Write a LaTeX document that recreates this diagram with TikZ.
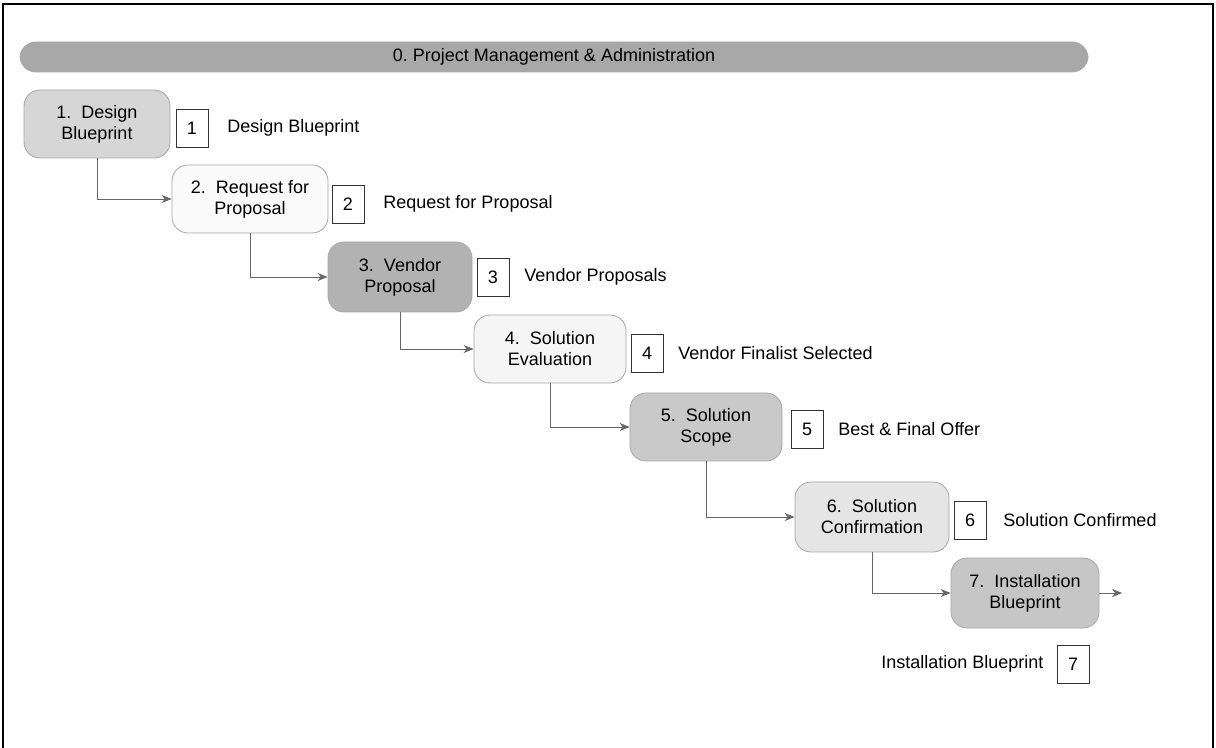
\documentclass[tikz,border=0pt]{standalone}
\usepackage{fontspec}
\setmainfont{Liberation Sans}
\usetikzlibrary{arrows.meta}

\tikzset{
    phase/.style={draw=gray!70, rounded corners=8, align=center, inner sep=2pt,
        font=\fontsize{9}{10.5}\selectfont},
    tag/.style={draw=black!80, minimum width=16pt, minimum height=19pt, inner sep=0pt,
        font=\fontsize{9}{10}\selectfont},
    deliv/.style={font=\fontsize{9}{10}\selectfont},
    flow/.style={draw=gray!80!black, thin, -{Stealth[length=5pt,width=4pt]}}
}

\begin{document}
\begin{tikzpicture}[x=0.5pt, y=-0.5pt]
    \useasboundingbox[fill=white] (0,0) rectangle (1216,748);
    % frame, open at the bottom
    \draw[black, line width=0.8pt] (3,748) -- (3,4) -- (1213,4) -- (1213,748);

    \node[phase, fill=gray!68, minimum width=534pt, minimum height=15pt,
          font=\fontsize{9}{10}\selectfont] (pm) at (554,57) {0.\ Project Management \& Administration};

    \node[phase, fill=gray!32, minimum width=73pt, minimum height=34pt] (b1) at (97,124)  {1.\ \ Design\\Blueprint};
    \node[phase, fill=gray!4,  minimum width=78pt, minimum height=34pt] (b2) at (250,199) {2.\ \ Request for\\Proposal};
    \node[phase, fill=gray!60, minimum width=72pt, minimum height=35pt] (b3) at (400,277) {3.\ \ Vendor\\Proposal};
    \node[phase, fill=gray!8,  minimum width=76pt, minimum height=34pt] (b4) at (550,349) {4.\ \ Solution\\Evaluation};
    \node[phase, fill=gray!42, minimum width=76pt, minimum height=34pt] (b5) at (706,427) {5.\ \ Solution\\Scope};
    \node[phase, fill=gray!20, minimum width=77pt, minimum height=35pt] (b6) at (872,517) {6.\ \ Solution\\Confirmation};
    \node[phase, fill=gray!45, minimum width=74pt, minimum height=35pt] (b7) at (1025,593) {7.\ \ Installation\\Blueprint};

    % deliverables
    \node[tag] (l1) at (192,128) {1};
    \node[deliv, anchor=west] (d1) at ([xshift=6pt]l1.east) {Design Blueprint};
    \node[tag] (l2) at (348,204) {2};
    \node[deliv, anchor=west] (d2) at ([xshift=6pt]l2.east) {Request for Proposal};
    \node[tag] (l3) at (493,277) {3};
    \node[deliv, anchor=west] (d3) at ([xshift=4pt]l3.east) {Vendor Proposals};
    \node[tag] (l4) at (647,353) {4};
    \node[deliv, anchor=west] (d4) at ([xshift=4pt]l4.east) {Vendor Finalist Selected};
    \node[tag] (l5) at (807,429) {5};
    \node[deliv, anchor=west] (d5) at ([xshift=4pt]l5.east) {Best \& Final Offer};
    \node[tag] (l6) at (970,520) {6};
    \node[deliv, anchor=west] (d6) at ([xshift=5pt]l6.east) {Solution Confirmed};
    \node[tag] (l7) at (1073,664) {7};
    \node[deliv, anchor=east] (d7) at ([xshift=-3pt]l7.west) {Installation Blueprint};

    % step to step
    \draw[flow] (b1.south) |- (b2.west);
    \draw[flow] (b2.south) |- (b3.west);
    \draw[flow] (b3.south) |- (b4.west);
    \draw[flow] (b4.south) |- (b5.west);
    \draw[flow] (b5.south) |- (b6.west);
    \draw[flow] (b6.south) |- (b7.west);
    \coordinate (out) at (1122,593);
    \draw[flow] (b7.east) -- (out);
\end{tikzpicture}
\end{document}
